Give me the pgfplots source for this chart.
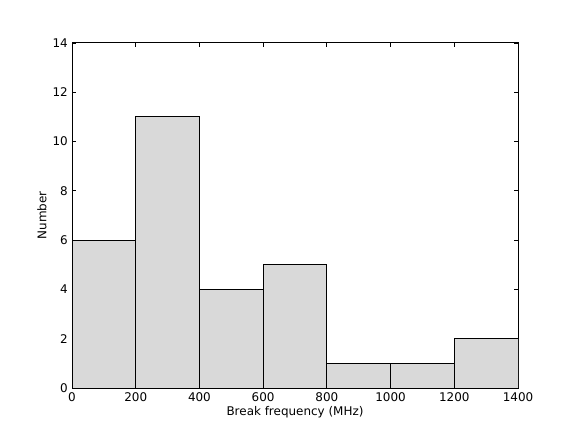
\documentclass[border=0pt]{standalone}
\usepackage{fontspec}
\setmainfont{DejaVu Sans}
\usepackage{pgfplots}
\pgfplotsset{compat=1.18}
\definecolor{barfill}{RGB}{217,217,217}
\begin{document}
\fontsize{12}{14}\selectfont
\begin{tikzpicture}[x=1bp,y=1bp]
\path[use as bounding box] (0,0) rectangle (576,432);
\begin{axis}[
    at={(72bp,44bp)}, anchor=south west,
    scale only axis,
    width=446bp, height=345bp,
    xmin=0, xmax=1400, ymin=0, ymax=14,
    xtick={0,200,...,1400},
    ytick={0,2,...,14},
    xtick pos=both, ytick pos=both,
    tick align=inside,
    major tick length=4bp,
    minor tick num=0,
    axis line style={line width=1bp},
    tick style={line width=0.8bp, black},
    xlabel={Break frequency (MHz)},
    ylabel={Number},
    /pgf/number format/assume math mode=true,
    /pgf/number format/1000 sep={},
    ticklabel style={font=\fontsize{12}{14}\selectfont},
    label style={font=\fontsize{12}{14}\selectfont},
    xlabel style={yshift=3bp},
    ylabel style={yshift=-2bp},
]
\addplot[ybar interval, fill=barfill, draw=black, line width=1bp] coordinates {
    (0,6) (200,11) (400,4) (600,5) (800,1) (1000,1) (1200,2) (1400,2)
};
\end{axis}
\end{tikzpicture}
\end{document}
